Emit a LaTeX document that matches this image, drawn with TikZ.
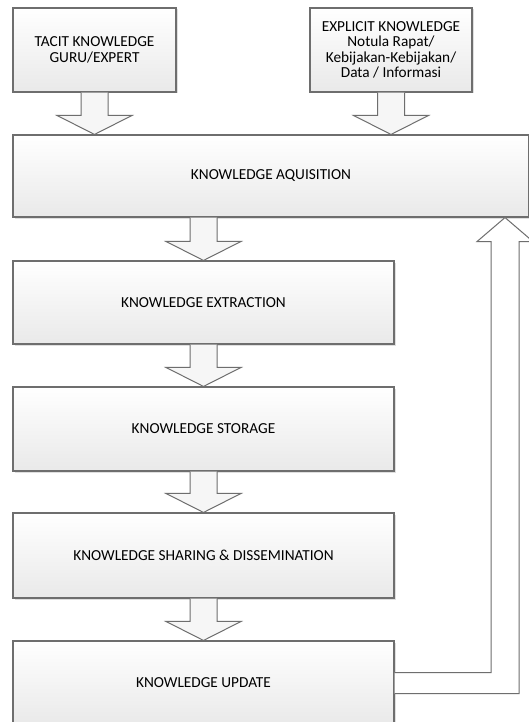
\documentclass[tikz,border=0pt]{standalone}
\usepackage{fontspec}
\setmainfont{Carlito}
\usetikzlibrary{calc,shadows}
\definecolor{edge}{HTML}{6E6E6E}
\definecolor{boxbot}{HTML}{E9E9E9}
\tikzset{
  procbox/.style={draw=edge, line width=1.1pt, top color=white, bottom color=boxbot,
    inner sep=0pt, align=center, font=\fontsize{15.3}{15.5}\selectfont,
    drop shadow={opacity=0.25, shadow xshift=1.5pt, shadow yshift=-1.5pt, fill=gray}},
  blockarr/.style={draw=edge, line width=1pt, fill=gray!7, line join=miter},
  backarr/.style={draw=edge, line width=1pt, fill=white, line join=miter}
}
% block arrow from the south side of #1 down to the north side of #2, on the vertical line of #3
\newcommand\blkdown[3]{%
  \path[blockarr] let \p1=(#3 |- #1.south), \p2=(#3 |- #2.north) in
    (\x1-13.5pt,\y1) -- (\x1-13.5pt,\y2+19pt) -- (\x1-37.5pt,\y2+19pt) -- (\x2,\y2)
    -- (\x1+37.5pt,\y2+19pt) -- (\x1+13.5pt,\y2+19pt) -- (\x1+13.5pt,\y1);
}
\begin{document}
\begin{tikzpicture}[x=1pt,y=-1pt]
\useasboundingbox (0,0) rectangle (529,722);
\clip (0,0) rectangle (529,722);
\fill[white] (0,0) rectangle (529,722);

\node[procbox, minimum width=163pt, minimum height=84pt] (tacit) at (94.5,50)
  {TACIT KNOWLEDGE\\GURU/EXPERT};
\node[procbox, minimum width=162pt, minimum height=84pt] (expl) at (391,50)
  {EXPLICIT KNOWLEDGE\\Notula Rapat/\\Kebijakan-Kebijakan/\\Data / Informasi};
\node[procbox, minimum width=516pt, minimum height=82pt] (acq) at (271,176)
  {KNOWLEDGE AQUISITION};
\node[procbox, minimum width=381pt, minimum height=83pt] (extr) at (203.5,302.5)
  {KNOWLEDGE EXTRACTION};
\node[procbox, minimum width=381pt, minimum height=84pt] (stor) at (203.5,429)
  {KNOWLEDGE STORAGE};
\node[procbox, minimum width=381pt, minimum height=85pt] (shar) at (203.5,555.5)
  {KNOWLEDGE SHARING \& DISSEMINATION};
\node[procbox, minimum width=381pt, minimum height=84pt] (upd) at (203.5,683)
  {KNOWLEDGE UPDATE};

\blkdown{tacit}{acq}{tacit.south}
\blkdown{expl}{acq}{expl.south}
\blkdown{acq}{extr}{extr.north}
\blkdown{extr}{stor}{extr.south}
\blkdown{stor}{shar}{stor.south}
\blkdown{shar}{upd}{shar.south}

\coordinate (fb) at (505,0);
\path[backarr] let \p1=(upd.east), \p2=(fb |- acq.south) in
  (\x1,\y1+10.5pt) -- (\x2-14pt,\y1+10.5pt) -- (\x2-14pt,\y2-24pt) -- (\x2-28pt,\y2-24pt)
  -- (\x2,\y2) -- (\x2+28pt,\y2-24pt) -- (\x2+14pt,\y2-24pt) -- (\x2+14pt,\y1-10.5pt)
  -- (\x1,\y1-10.5pt);
\end{tikzpicture}
\end{document}
